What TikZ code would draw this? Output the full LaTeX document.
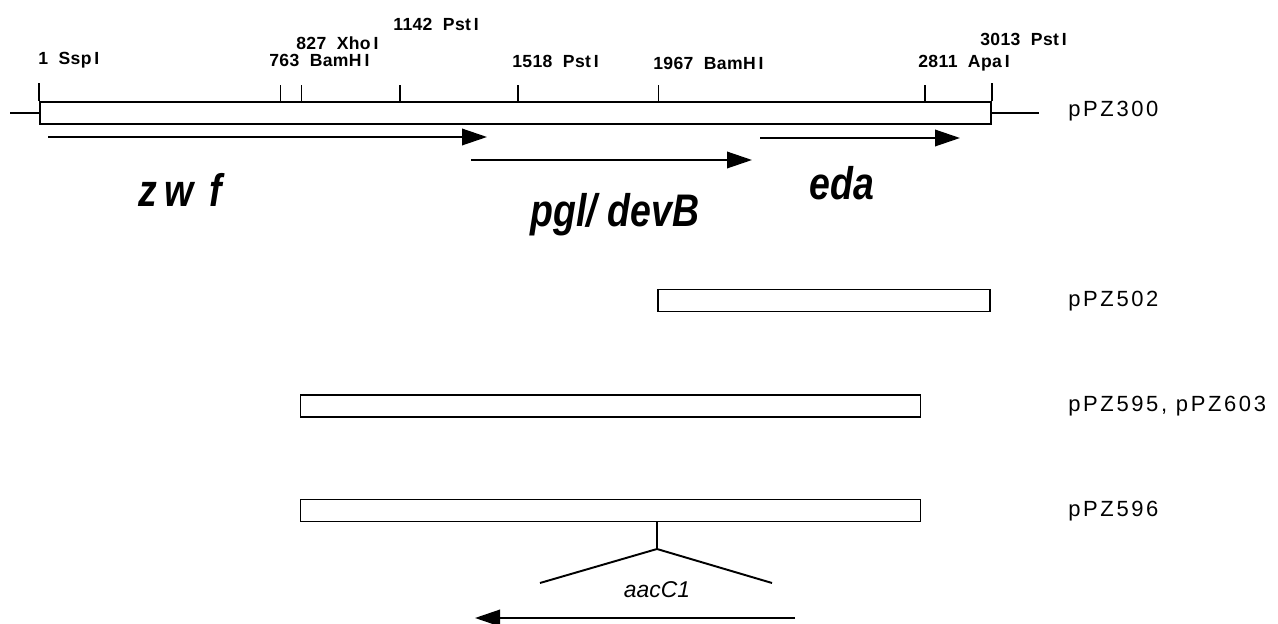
\documentclass[tikz,border=0pt]{standalone}
\usepackage{fontspec}
\setmainfont{Liberation Sans}
\newfontfamily\sitefont[LetterSpace=2]{Liberation Sans}
\newfontfamily\genefont[FakeStretch=0.82]{Liberation Sans}
\newfontfamily\plasfont[LetterSpace=12]{Liberation Sans}
\usepackage{tikz}
\usetikzlibrary{positioning,arrows.meta}
\tikzset{
  insert/.style={rectangle, draw=black, line width=1.1pt, minimum height=4.4mm, inner sep=0pt},
  sitetick/.style={draw=black, line width=1.1pt},
  site/.style={font=\sitefont\bfseries\fontsize{10}{11}\selectfont, anchor=west, inner sep=0pt},
  gene/.style={-{Triangle[length=5mm,width=3.3mm]}, line width=1.1pt},
  genelbl/.style={font=\genefont\bfseries\itshape\fontsize{26}{28}\selectfont},
  plasmid/.style={font=\plasfont\fontsize{12.5}{14}\selectfont, anchor=west, inner sep=0pt},
}

\begin{document}
\begin{tikzpicture}
\useasboundingbox (0,0) rectangle (25.56,-12.48);
% ---- pPZ300 map ----
\node[insert, minimum width=19.02cm] (p300) at (10.31,-2.26) {};
\draw[sitetick] (p300.west) -- ++(-0.58,0);
\draw[sitetick] (p300.east) -- ++(0.94,0);
\draw[sitetick] (p300.north west) -- ++(0,0.36);
\draw[sitetick] (5.61,-2.04) -- ++(0,0.34);
\draw[sitetick] (6.03,-2.04) -- ++(0,0.34);
\draw[sitetick] (8.0,-2.04) -- ++(0,0.34);
\draw[sitetick] (10.36,-2.04) -- ++(0,0.34);
\draw[sitetick] (13.17,-2.04) -- ++(0,0.34);
\draw[sitetick] (18.5,-2.04) -- ++(0,0.34);
\draw[sitetick] (p300.north east) -- ++(0,0.36);
\node[site] (s1) at (0.76,-1.2) {1\ \ Ssp\,I};
\node[site] (s763) at (5.38,-1.2) {763\ \ BamH\,I};
\node[site] (s827) at (5.92,-0.86) {827\ \ Xho\,I};
\node[site] (s1142) at (7.86,-0.48) {1142\ \ Pst\,I};
\node[site] (s1518) at (10.24,-1.22) {1518\ \ Pst\,I};
\node[site] (s1967) at (13.06,-1.26) {1967\ \ BamH\,I};
\node[site] (s2811) at (18.36,-1.26) {2811\ \ Apa\,I};
\node[site] (s3013) at (19.6,-0.78) {3013\ \ Pst\,I};
\node[plasmid] (l300) at (21.36,-2.22) {pPZ300};
% ---- genes ----
\coordinate (zwf_a) at (0.96,-2.74);  \coordinate (zwf_b) at (9.74,-2.74);
\coordinate (pgl_a) at (9.42,-3.2);   \coordinate (pgl_b) at (15.04,-3.2);
\coordinate (eda_a) at (15.2,-2.76);  \coordinate (eda_b) at (19.2,-2.76);
\draw[gene] (zwf_a) -- (zwf_b);
\draw[gene] (pgl_a) -- (pgl_b);
\draw[gene] (eda_a) -- (eda_b);
\node[genelbl] (zwf) at (3.6,-3.8) {z\,w\,\,f};
\node[genelbl] (pgl) at (12.3,-4.3) {pgl/ devB};
\node[genelbl] (eda) at (16.84,-3.66) {eda};
% ---- subclones ----
\node[insert, minimum width=6.64cm] (p502) at (16.48,-6.01) {};
\node[plasmid] (l502) at (21.36,-6.02) {pPZ502};
\node[insert, minimum width=12.4cm] (p595) at (12.21,-8.12) {};
\node[plasmid] (l595) at (21.36,-8.12) {pPZ595, pPZ603};
\node[insert, minimum width=12.4cm] (p596) at (12.21,-10.21) {};
\node[plasmid] (l596) at (21.36,-10.22) {pPZ596};
% ---- aacC1 insertion ----
\coordinate (ins) at (13.14,-10.98);
\coordinate (ins_l) at (10.8,-11.66);
\coordinate (ins_r) at (15.44,-11.66);
\draw[sitetick] (ins |- p596.south) -- (ins);
\draw[sitetick] (ins_l) -- (ins) -- (ins_r);
\node[font=\itshape\fontsize{13}{15}\selectfont] (aac) at (13.14,-11.8) {aacC1};
\coordinate (aac_a) at (15.9,-12.36); \coordinate (aac_b) at (9.5,-12.36);
\draw[gene] (aac_a) -- (aac_b);
\end{tikzpicture}
\end{document}
